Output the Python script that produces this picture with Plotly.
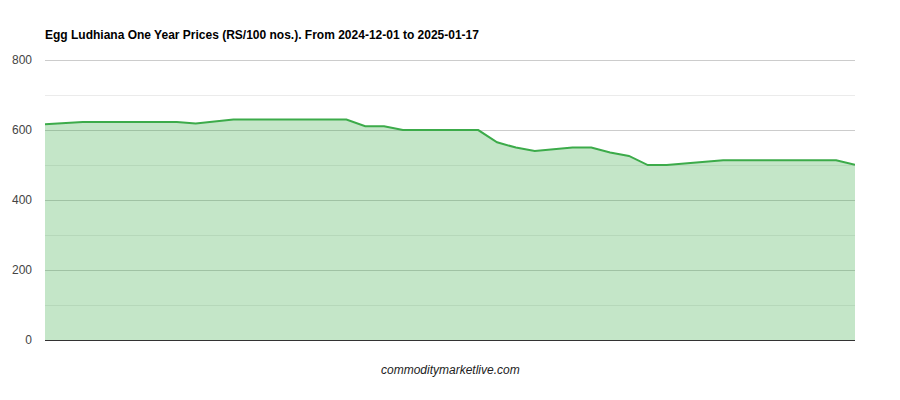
import plotly.graph_objects as go

# daily-ish price points (RS/100 nos.)
day_index = list(range(44))
prices = [617, 620, 623, 623, 623, 623, 623, 623, 619, 625,
          630, 630, 630, 630, 630, 630, 630, 611, 611, 600,
          600, 600, 600, 600, 565, 550, 540, 545, 550, 550,
          536, 526, 500, 500, 505, 509, 514, 514, 514, 514,
          514, 514, 514, 501]
y_ticks = [0, 200, 400, 600, 800]

title_text = "Egg Ludhiana One Year Prices (RS/100 nos.). From 2024-12-01 to 2025-01-17"
source_text = "commoditymarketlive.com"

# the page body adds an 8px offset, so the figure is 8px smaller and margins shifted
W, H = 892, 392
ML, MR, MT, MB = 37, 45, 50, 60
plot_h = H - MT - MB

fig = go.Figure()
fig.add_trace(go.Scatter(
    x=day_index, y=prices, mode="lines",
    line=dict(color="#3cab4a", width=2),
    fill="tozeroy", fillcolor="rgba(60,171,74,0.3)",
    hoverinfo="y",
))

fig.update_layout(
    width=W, height=H,
    margin=dict(l=ML, r=MR, t=MT, b=MB, autoexpand=False),
    paper_bgcolor="white", plot_bgcolor="white",
    font=dict(family="Liberation Sans, Arial, sans-serif", size=12, color="#444"),
    showlegend=False,
    title=dict(text="<b>" + title_text + "</b>", x=ML / W, xanchor="left",
               y=1 - 27 / H, yanchor="middle",
               font=dict(size=12, color="#000")),
)
fig.update_xaxes(range=[0, 43], showgrid=False, showticklabels=False, automargin=False,
                 zeroline=False, showline=False, ticks="")
# top of range a bit above 800 so the 800 gridline is drawn
fig.update_yaxes(range=[0, 806], tickvals=y_ticks, showgrid=True, gridcolor="#cccccc",
                 minor=dict(dtick=100, showgrid=True, gridcolor="#ebebeb"),
                 zeroline=True, zerolinecolor="#333333", zerolinewidth=1, automargin=False,
                 showline=False, ticks="", ticklabelstandoff=12)
fig.add_annotation(text="<i>" + source_text + "</i>", xref="paper", yref="paper",
                   x=0.5, y=-30 / plot_h, xanchor="center", yanchor="middle",
                   showarrow=False, font=dict(size=12, color="#222"))

fig.write_html("out.html")
